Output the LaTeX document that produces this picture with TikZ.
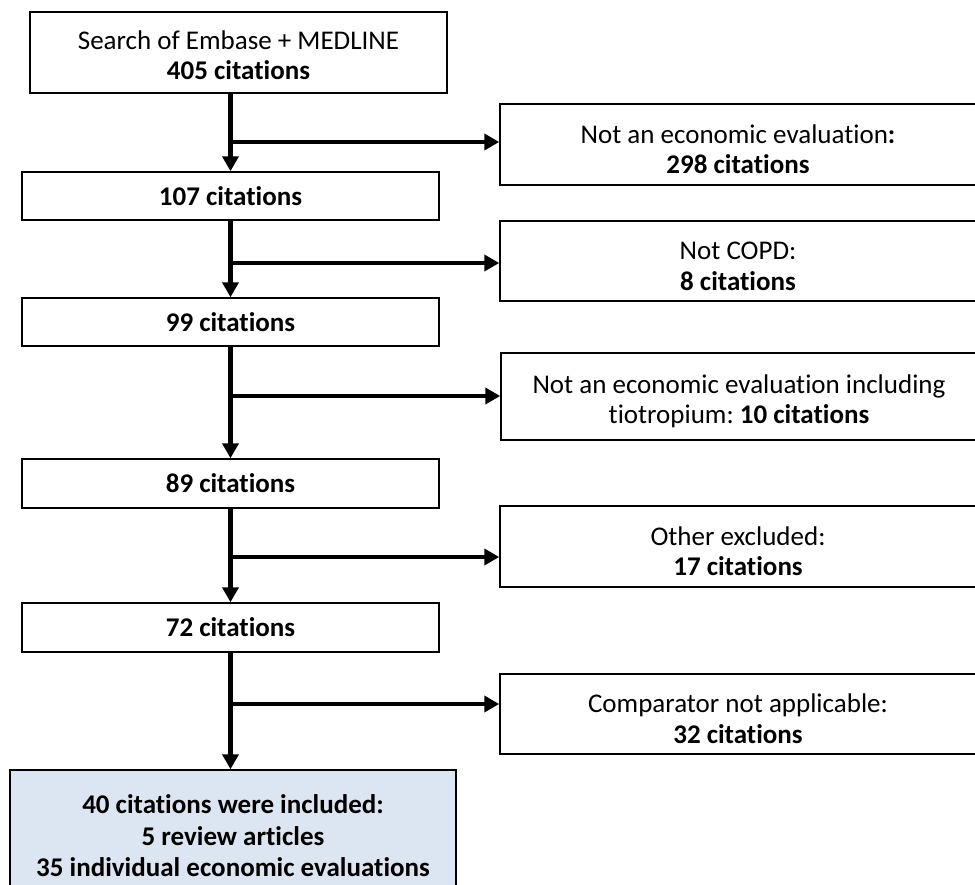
\documentclass[tikz,border=0pt]{standalone}
\usepackage{fontspec}
\setmainfont[RawFeature={-liga;-clig;-dlig;-calt;-rlig}]{Carlito}
\usetikzlibrary{arrows.meta}
\definecolor{inclfill}{HTML}{DCE6F2}
\newcommand{\lowr}{\rule{0pt}{28pt}}
\newcommand{\lowrs}{\rule{0pt}{24pt}}
\frenchspacing
\begin{document}
\begin{tikzpicture}[x=1pt,y=-1pt,
  box/.style={draw, line width=1.5pt, minimum width=417pt, align=center, inner sep=0pt,
    font=\fontsize{27}{30}\selectfont},
  side/.style={draw, line width=1.5pt, minimum width=476pt, align=center, inner sep=0pt,
    font=\fontsize{27}{30.5}\selectfont},
  flow/.style={line width=4.5pt, -{Triangle[length=15pt,width=16pt]}}]
\useasboundingbox (0,0) rectangle (975,884);

% main column
\node[box, minimum height=81pt] (top) at (238.5,52.5) {\lowrs Search of Embase + MEDLINE\\\textbf{405 citations}};
\node[box, minimum height=48pt] (n107) at (230.5,196) {\textbf{107 citations}};
\node[box, minimum height=48pt] (n99) at (230.5,322) {\textbf{99 citations}};
\node[box, minimum height=49pt] (n89) at (230.5,483.5) {\textbf{89 citations}};
\node[box, minimum height=49pt] (n72) at (230.5,627.5) {\textbf{72 citations}};
\node[box, fill=inclfill, minimum width=446pt, minimum height=132pt,
  font=\fontsize{27}{31.5}\selectfont\bfseries] (final) at (233,836)
  {40 citations were included:\\5 review articles\\35 individual economic evaluations};

% exclusion boxes
\node[side, minimum height=81pt] (r1) at (738,144.5) {\lowr Not an economic evaluation\textbf{:}\\\textbf{298 citations}};
\node[side, minimum height=80pt] (r2) at (738,261) {\lowr Not COPD:\\\textbf{8 citations}};
\node[side, minimum height=87pt] (r3) at (739,396.5) {\lowr Not an economic evaluation including\\tiotropium: \textbf{10 citations}};
\node[side, minimum height=81pt] (r4) at (738,546.5) {\lowr Other excluded:\\\textbf{17 citations}};
\node[side, minimum height=80pt] (r5) at (738,714) {\lowr Comparator not applicable:\\\textbf{32 citations}};

% junctions
\coordinate (j1) at (230.5,142);
\coordinate (j2) at (230.5,263);
\coordinate (j3) at (230.5,396);
\coordinate (j4) at (230.5,557);
\coordinate (j5) at (230.5,704);

% vertical flow
\draw[flow] (top.south -| n107.north) -- (n107.north);
\draw[flow] (n107.south) -- (n99.north);
\draw[flow] (n99.south) -- (n89.north);
\draw[flow] (n89.south) -- (n72.north);
\draw[flow] (n72.south) -- (final.north -| n72.south);

% branches
\draw[flow] (j1) -- (r1.west |- j1);
\draw[flow] (j2) -- (r2.west |- j2);
\draw[flow] (j3) -- (r3.west |- j3);
\draw[flow] (j4) -- (r4.west |- j4);
\draw[flow] (j5) -- (r5.west |- j5);
\end{tikzpicture}
\end{document}
